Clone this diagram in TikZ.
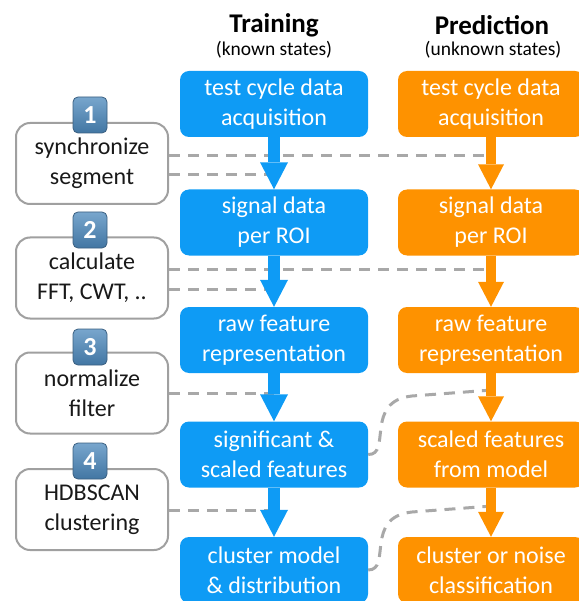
\documentclass[tikz,border=0pt]{standalone}
\usepackage{fontspec}
\setmainfont{Carlito}
\usetikzlibrary{arrows.meta}

\definecolor{trainblue}{RGB}{14,155,245}
\definecolor{predorange}{RGB}{254,146,0}
\definecolor{linkgray}{RGB}{168,168,168}
\definecolor{stepgray}{RGB}{160,160,160}
\definecolor{badgetop}{RGB}{120,166,205}
\definecolor{badgebottom}{RGB}{66,118,163}
\definecolor{badgeedge}{RGB}{58,95,128}

\begin{document}
\begin{tikzpicture}[x=1pt, y=-1pt, font=\fontsize{24}{30}\selectfont, title/.style={font=\fontsize{27}{30}\selectfont\bfseries}, subtitle/.style={font=\fontsize{19.5}{22}\selectfont}, trainbox/.style={fill=trainblue, text=white, rounded corners=9pt, minimum width=188pt, minimum height=66pt, inner sep=0pt, align=center}, predbox/.style={trainbox, fill=predorange, minimum width=186pt}, stepbox/.style={draw=stepgray, line width=2pt, fill=white, rounded corners=14pt, minimum width=152pt, minimum height=81pt, inner sep=0pt, align=center, text=black!90}, badge/.style={draw=badgeedge, line width=0.8pt, rounded corners=5pt, top color=badgetop, bottom color=badgebottom, text=white, font=\fontsize{26}{26}\selectfont\bfseries, minimum width=34pt, minimum height=36pt, inner sep=0pt}, trainarrow/.style={draw=trainblue, line width=12pt, -{Triangle[width=28pt, length=27pt, line width=0pt]}}, predarrow/.style={trainarrow, draw=predorange, line width=10pt, -{Triangle[width=26pt, length=25pt, line width=0pt, fill=predorange]}}, dashlink/.style={draw=linkgray, line width=3pt, dash pattern=on 11pt off 8pt}]
  \useasboundingbox (0,0) rectangle (578,601);

  % column heads
  \node[title] (trainhead) at (274,25) {Training};
  \node[subtitle] (trainsub) at (274,50) {(known states)};
  \node[title] (predhead) at (492,25) {Prediction};
  \node[subtitle] (predsub) at (493,50) {(unknown states)};

  % where the dashed links meet the arrows
  \coordinate (j1a) at (492,156);
  \coordinate (j1b) at (274,175);
  \coordinate (j2a) at (492,269);
  \coordinate (j2b) at (274,289);
  \coordinate (j3) at (274,393);
  \coordinate (j4) at (274,510);
  \coordinate (k4) at (492,390);
  \coordinate (k5) at (492,506);

  % steps
  \node[stepbox] (s1) at (92,163.5) {synchronize\\segment};
  \node[stepbox] (s2) at (92,278) {calculate\\FFT, CWT, ..};
  \node[stepbox] (s3) at (92,393) {normalize\\filter};
  \node[stepbox] (s4) at (92,509.5) {HDBSCAN\\clustering};
  \node[badge] (b1) at (90,115) {1};
  \node[badge] (b2) at (90,230) {2};
  \node[badge] (b3) at (90,347) {3};
  \node[badge] (b4) at (90,461) {4};

  % training
  \node[trainbox] (t1) at (274,104) {test cycle data\\acquisition};
  \node[trainbox] (t2) at (274,222.5) {signal data\\per ROI};
  \node[trainbox] (t3) at (274,340) {raw feature\\representation};
  \node[trainbox] (t4) at (274,454.5) {significant \&\\scaled features};
  \node[trainbox] (t5) at (274,570) {cluster model\\\& distribution};

  % prediction
  \node[predbox] (p1) at (491,104) {test cycle data\\acquisition};
  \node[predbox] (p2) at (491,222.5) {signal data\\per ROI};
  \node[predbox] (p3) at (491,340) {raw feature\\representation};
  \node[predbox] (p4) at (491,454.5) {scaled features\\from model};
  \node[predbox] (p5) at (491,570) {cluster or noise\\classification};

  % dashed links
  \draw[dashlink] (s1.east |- j1a) -- (j1a);
  \draw[dashlink] (s1.east |- j1b) -- (j1b);
  \draw[dashlink] (s2.east |- j2a) -- (j2a);
  \draw[dashlink] (s2.east |- j2b) -- (j2b);
  \draw[dashlink] (s3.east |- j3) -- (j3);
  \draw[dashlink] (s4.east |- j4) -- (j4);
  \draw[dashlink] (t4.east) .. controls (392,455) and (364,401) .. (412,396) -- (k4);
  \draw[dashlink] (t5.east) .. controls (392,570) and (364,517) .. (412,512) -- (k5);

  % arrows
  \foreach \a/\b in {t1/t2,t2/t3,t3/t4,t4/t5}
    \draw[trainarrow] (\a.south) -- (\b.north);
  \foreach \a/\b in {p1/p2,p2/p3,p3/p4,p4/p5}
    \draw[predarrow] (\a.south) -- (\b.north);
\end{tikzpicture}
\end{document}
